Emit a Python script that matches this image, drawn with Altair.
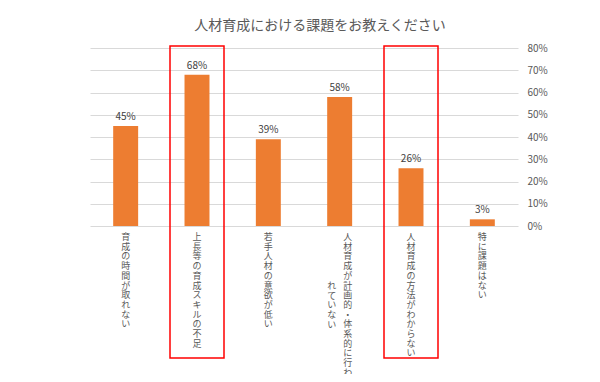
import altair as alt
import pandas as pd

# --- data ---
categories = [
    "育成の時間が取れない",
    "上長等の育成スキルの不足",
    "若手人材の意欲が低い",
    "人材育成が計画的・体系的に行われていない",
    "人材育成の方法がわからない",
    "特に課題はない",
]
values = [0.45, 0.68, 0.39, 0.58, 0.26, 0.03]
# vertical label columns (Japanese vertical writing, right column first)
label_col1 = [
    "育成の時間が取れない",
    "上長等の育成スキルの不足",
    "若手人材の意欲が低い",
    "人材育成が計画的・体系的に行わ",
    "人材育成の方法がわからない",
    "特に課題はない",
]
label_col2 = ["", "", "", "れていない", "", ""]
highlighted = ["上長等の育成スキルの不足", "人材育成の方法がわからない"]
y_ticks = [0, 0.1, 0.2, 0.3, 0.4, 0.5, 0.6, 0.7, 0.8]
title_text = "人材育成における課題をお教えください"

df = pd.DataFrame({
    "cat": categories,
    "value": values,
    "col1": [list(s) for s in label_col1],
    "col2": [list(s) for s in label_col2],
    "n2": [len(s) for s in label_col2],
    "hl": [c in highlighted for c in categories],
})

FONT = "Noto Sans CJK JP"
ORANGE = "#ED7D31"
TXT = "#595959"
LH = 9.7

x = alt.X("cat:N", sort=categories, axis=None,
          scale=alt.Scale(paddingInner=0.65, paddingOuter=0.325))

base = alt.Chart(df)

bars = base.mark_bar(color=ORANGE).encode(
    x=x,
    y=alt.Y("value:Q",
            scale=alt.Scale(domain=[0, 0.8], nice=False),
            axis=alt.Axis(orient="right", format=".0%", values=y_ticks,
                          tickCount=9, labelOverlap=False,
                          domain=False, ticks=False, title=None,
                          labelPadding=9, labelFontSize=10, labelColor=TXT,
                          labelFont=FONT, gridColor="#D9D9D9", gridWidth=1)),
)

value_labels = base.mark_text(baseline="bottom", dy=-4, fontSize=10,
                              color="#404040", font=FONT).encode(
    x=x,
    y="value:Q",
    text=alt.Text("value:Q", format=".0%"),
)

single = base.transform_filter(alt.datum.n2 == 0).mark_text(
    baseline="top", align="center", fontSize=9, lineHeight=LH,
    color=TXT, font=FONT,
).encode(x=x, y=alt.value(185), text="col1")

two_right = base.transform_filter(alt.datum.n2 > 0).mark_text(
    baseline="top", align="center", fontSize=9, lineHeight=LH,
    color=TXT, font=FONT, dx=8,
).encode(x=x, y=alt.value(185), text="col1")

two_left = base.transform_filter(alt.datum.n2 > 0).mark_text(
    baseline="top", align="center", fontSize=9, lineHeight=LH,
    color=TXT, font=FONT, dx=-8,
).encode(x=x, y=alt.value(234), text="col2")

boxes = base.transform_filter(alt.datum.hl).mark_bar(
    filled=False, stroke="#FF0000", strokeWidth=1.5, size=54,
).encode(x=x, y=alt.value(-2), y2=alt.value(310))

chart = alt.layer(bars, value_labels, single, two_right, two_left, boxes).properties(
    width=428,
    height=178,
    autosize=alt.AutoSizeParams(type="none"),
    padding={"left": 82, "top": 40, "right": 74, "bottom": 148},
    title=alt.TitleParams(title_text, fontSize=14, font=FONT, color=TXT,
                          fontWeight="normal", anchor="middle", dx=16, offset=10),
).configure_view(stroke=None)

chart.save("out.html", embed_options={"renderer": "svg", "actions": False})
